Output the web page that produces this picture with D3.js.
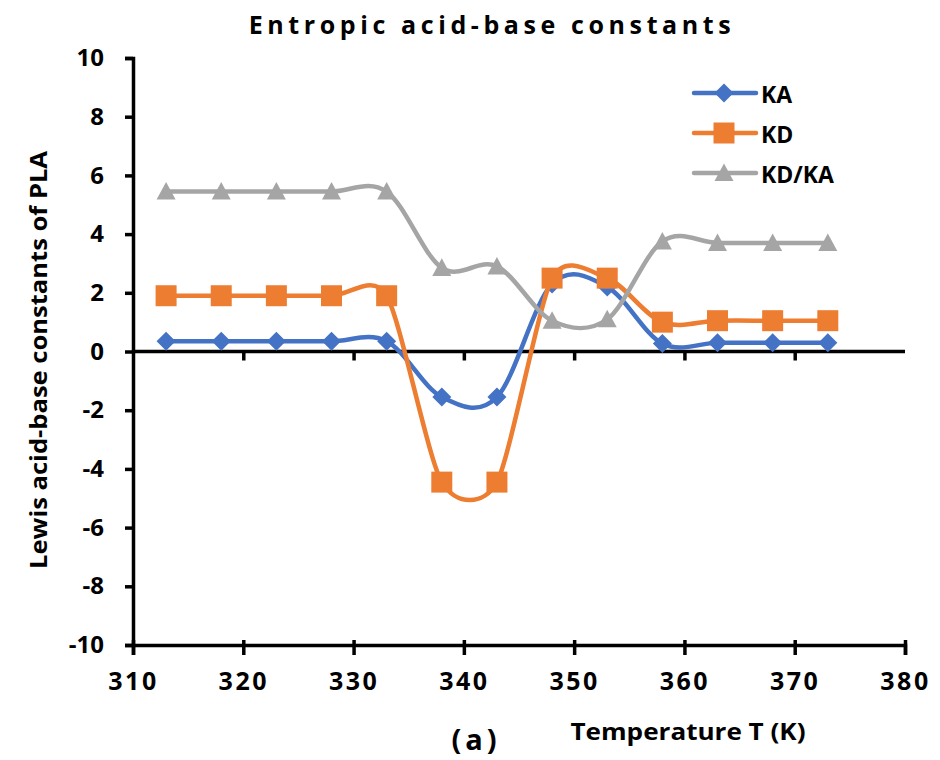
<!DOCTYPE html>
<html>
<head>
<meta charset="utf-8">
<script src="https://cdn.jsdelivr.net/npm/d3@7"></script>
<style>
  html, body { margin: 0; padding: 0; background: #fff; }
  svg { display: block; }
  text { font-family: "Open Sans", "Liberation Sans", sans-serif; font-weight: 700; fill: #000; }
</style>
</head>
<body>
<svg id="chart" width="940" height="760"></svg>
<script>
// Temperatures (K) and the three Lewis acid-base constant series
const temperatures = [313, 318, 323, 328, 333, 338, 343, 348, 353, 358, 363, 368, 373];
const kaValues   = [0.35, 0.35, 0.35, 0.35, 0.35, -1.55, -1.55, 2.3, 2.2, 0.27, 0.3, 0.3, 0.3];
const kdValues   = [1.9, 1.9, 1.9, 1.9, 1.9, -4.45, -4.45, 2.5, 2.5, 1.0, 1.05, 1.05, 1.05];
const kdkaValues = [5.45, 5.45, 5.45, 5.45, 5.45, 2.85, 2.9, 1.05, 1.1, 3.75, 3.7, 3.7, 3.7];
const seriesNames = ["KA", "KD", "KD/KA"];
const seriesColors = ["#4472C4", "#ED7D31", "#A5A5A5"];
const xTicks = [310, 320, 330, 340, 350, 360, 370, 380];
const yTicks = [-10, -8, -6, -4, -2, 0, 2, 4, 6, 8, 10];

// Marker shapes: rotated square, square, triangle (bounding box centred on the point)
const diamondShape = { draw(ctx, r) { ctx.moveTo(0, -r); ctx.lineTo(r, 0); ctx.lineTo(0, r); ctx.lineTo(-r, 0); ctx.closePath(); } };
const squareShape  = { draw(ctx, r) { ctx.rect(-r, -r, 2 * r, 2 * r); } };
const triangleShape = { draw(ctx, r) { ctx.moveTo(0, -r); ctx.lineTo(r, r * 0.85); ctx.lineTo(-r, r * 0.85); ctx.closePath(); } };
const seriesShapes = [diamondShape, squareShape, triangleShape];
const shapeRadius = [9.5, 10.5, 9.5];

const series = [kaValues, kdValues, kdkaValues].map((vals, i) => ({
  name: seriesNames[i],
  color: seriesColors[i],
  shape: seriesShapes[i],
  r: shapeRadius[i],
  points: temperatures.map((t, j) => ({ t, v: vals[j] }))
}));

// Smoothed line: cubic Bezier segments whose handles follow the neighbouring
// points (1/6 of the chord), shortened when an adjacent segment is short.
function SmoothCurve(context) { this._context = context; }
SmoothCurve.prototype = {
  areaStart() { this._line = 0; },
  areaEnd() { this._line = NaN; },
  lineStart() { this._pts = []; },
  point(px, py) { this._pts.push([+px, +py]); },
  lineEnd() {
    const p = this._pts, n = p.length, ctx = this._context;
    if (!n) return;
    const dist = (a, b) => Math.hypot(a[0] - b[0], a[1] - b[1]);
    const tangent = i => {
      const prev = p[Math.max(0, i - 1)], cur = p[i], next = p[Math.min(n - 1, i + 1)];
      const d02 = dist(prev, next);
      if (d02 === 0) return [0, 0];
      let f = 1 / 6;
      const d01 = dist(prev, cur), d12 = dist(cur, next);
      if (d01 > 0) f = Math.min(f, d01 / (2 * d02));
      if (d12 > 0) f = Math.min(f, d12 / (2 * d02));
      return [(next[0] - prev[0]) * f, (next[1] - prev[1]) * f];
    };
    const tans = p.map((_, i) => tangent(i));
    ctx.moveTo(p[0][0], p[0][1]);
    for (let i = 0; i < n - 1; i++) {
      const a = p[i], b = p[i + 1], ta = tans[i], tb = tans[i + 1];
      ctx.bezierCurveTo(a[0] + ta[0], a[1] + ta[1], b[0] - tb[0], b[1] - tb[1], b[0], b[1]);
    }
  }
};
const smoothCurve = context => new SmoothCurve(context);

const svg = d3.select("#chart");
const plotLeft = 133, plotRight = 905, plotTop = 58, plotBottom = 645;

const x = d3.scaleLinear().domain([310, 380]).range([plotLeft, plotRight]);
const y = d3.scaleLinear().domain([-10, 10]).range([plotBottom, plotTop]);
const numFmt = d => String(d);

// Title
svg.append("text")
  .attr("x", 492).attr("y", 34)
  .attr("text-anchor", "middle")
  .style("font-size", "25px")
  .style("letter-spacing", "4.6px")
  .text("Entropic acid-base constants");

// Left axis
const yAxis = svg.append("g")
  .attr("transform", `translate(${plotLeft},0)`)
  .call(d3.axisLeft(y).tickValues(yTicks).tickSize(8).tickPadding(21).tickFormat(numFmt));
yAxis.select(".domain").attr("stroke", "#000").attr("stroke-width", 3.5);
yAxis.selectAll(".tick line").attr("stroke", "#000").attr("stroke-width", 3.5);
yAxis.selectAll(".tick text")
  .style("font-size", "24px").style("font-family", "'Open Sans', sans-serif").style("font-weight", 700);

// Bottom axis
const xAxis = svg.append("g")
  .attr("transform", `translate(0,${plotBottom})`)
  .call(d3.axisBottom(x).tickValues(xTicks).tickSize(10).tickPadding(17).tickFormat(numFmt));
xAxis.select(".domain").attr("stroke", "#000").attr("stroke-width", 3.5);
xAxis.selectAll(".tick line").attr("stroke", "#000").attr("stroke-width", 3.5).attr("y1", -5);
xAxis.selectAll(".tick text").style("font-size", "25px").style("letter-spacing", "2.5px")
  .style("font-family", "'Open Sans', sans-serif").style("font-weight", 700);

// Zero line with its own tick marks
const zeroAxis = svg.append("g")
  .attr("transform", `translate(0,${y(0)})`)
  .call(d3.axisBottom(x).tickValues(xTicks.slice(1, -1)).tickSize(9).tickFormat(""));
zeroAxis.select(".domain").attr("stroke", "#000").attr("stroke-width", 3.5).attr("d", `M${plotLeft},0H${plotRight}`);
zeroAxis.selectAll(".tick line").attr("stroke", "#000").attr("stroke-width", 3.5);

// Series lines and markers
const line = d3.line()
  .x(d => x(d.t))
  .y(d => y(d.v))
  .curve(smoothCurve);

series.forEach(s => {
  const g = svg.append("g");
  g.append("path")
    .datum(s.points)
    .attr("fill", "none")
    .attr("stroke", s.color)
    .attr("stroke-width", 4.5)
    .attr("stroke-linejoin", "round")
    .attr("d", line);
  g.selectAll("path.marker")
    .data(s.points)
    .join("path")
    .attr("class", "marker")
    .attr("transform", d => `translate(${x(d.t)},${y(d.v)})`)
    .attr("d", d3.symbol().type(s.shape).size(s.r))
    .attr("fill", s.color);
});

// Legend
const legend = svg.append("g");
series.forEach((s, i) => {
  const ly = 93 + i * 40;
  legend.append("line")
    .attr("x1", 694).attr("x2", 756)
    .attr("y1", ly).attr("y2", ly)
    .attr("stroke", s.color).attr("stroke-width", 4.5)
    .attr("stroke-linecap", "round");
  legend.append("path")
    .attr("transform", `translate(724,${ly})`)
    .attr("d", d3.symbol().type(s.shape).size(s.r))
    .attr("fill", s.color);
  legend.append("text")
    .attr("x", 761).attr("y", ly + 10)
    .style("font-size", "23px")
    .text(s.name);
});

// Axis titles
svg.append("text")
  .attr("transform", `translate(47,360) rotate(-90)`)
  .attr("text-anchor", "middle")
  .style("font-size", "24px")
  .attr("textLength", 418)
  .attr("lengthAdjust", "spacingAndGlyphs")
  .text("Lewis acid-base constants of PLA");

svg.append("text")
  .attr("x", 688).attr("y", 740)
  .attr("text-anchor", "middle")
  .style("font-size", "24px")
  .attr("textLength", 235)
  .attr("lengthAdjust", "spacingAndGlyphs")
  .text("Temperature T (K)");

svg.append("text")
  .attr("x", 476).attr("y", 750)
  .attr("text-anchor", "middle")
  .style("font-size", "29px")
  .style("letter-spacing", "4px")
  .text("(a)");
</script>
</body>
</html>
